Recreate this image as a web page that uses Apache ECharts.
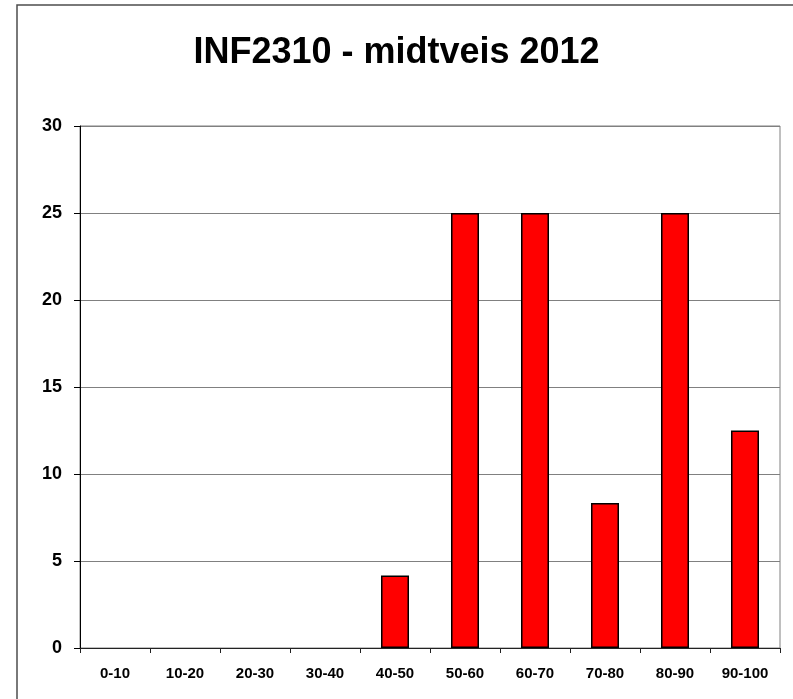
<!DOCTYPE html>
<html lang="no">
<head>
    <meta charset="UTF-8">
    <title>INF2310 - midtveis 2012</title>
    <script src="https://cdn.jsdelivr.net/npm/echarts@6/dist/echarts.min.js"></script>
    <style>
        html, body { margin: 0; padding: 0; background: #fff; }
    </style>
</head>
<body>
    <div id="main" style="width: 793px;height: 699px"></div>
    <script>
        // karakterintervall (poeng) og andel studenter i prosent
        var categories = ['0-10', '10-20', '20-30', '30-40', '40-50', '50-60', '60-70', '70-80', '80-90', '90-100'];
        var values = [0, 0, 0, 0, 4.17, 25, 25, 8.33, 25, 12.5];
        var yTicks = [0, 5, 10, 15, 20, 25, 30];

        var font = '"Liberation Sans", Arial, sans-serif';
        var mCharts = echarts.init(document.getElementById('main'));
        var option = {
            animation: false,
            backgroundColor: '#fff',
            title: {
                text: 'INF2310 - midtveis 2012',
                left: 'center',
                top: 30,
                textStyle: { fontFamily: font, fontWeight: 'bold', fontSize: 36, color: '#000' }
            },
            // ramme rundt hele figuren
            graphic: [{
                type: 'rect',
                shape: { x: 17, y: 5, width: 800, height: 720 },
                style: { fill: 'none', stroke: '#4d4d4d', lineWidth: 1.5 },
                silent: true
            }],
            grid: {
                left: 80, right: 13, top: 126, bottom: 51,
                show: true,
                borderColor: '#808080',
                borderWidth: 1
            },
            xAxis: {
                type: 'category',
                data: categories,
                axisLine: { lineStyle: { color: '#222', width: 1 } },
                axisTick: { show: true, length: 5, lineStyle: { color: '#222' } },
                axisLabel: {
                    interval: 0, margin: 18, color: '#000',
                    fontFamily: font, fontWeight: 'bold', fontSize: 15
                }
            },
            yAxis: {
                type: 'value',
                min: yTicks[0],
                max: yTicks[yTicks.length - 1],
                interval: 5,
                axisLine: { show: true, lineStyle: { color: '#000', width: 1 } },
                axisTick: { show: true, length: 6, lineStyle: { color: '#000' } },
                splitLine: { lineStyle: { color: '#808080', width: 1 } },
                axisLabel: {
                    margin: 18, color: '#000',
                    fontFamily: font, fontWeight: 'bold', fontSize: 18
                }
            },
            series: [{
                type: 'bar',
                // tomme intervaller tegnes ikke (ingen strek ved 0)
                data: values.map(function (v) { return v === 0 ? '-' : v; }),
                barWidth: '40%',
                itemStyle: { color: '#ff0000', borderColor: '#000', borderWidth: 1.5 }
            }]
        };
        mCharts.setOption(option);
    </script>
</body>
</html>
